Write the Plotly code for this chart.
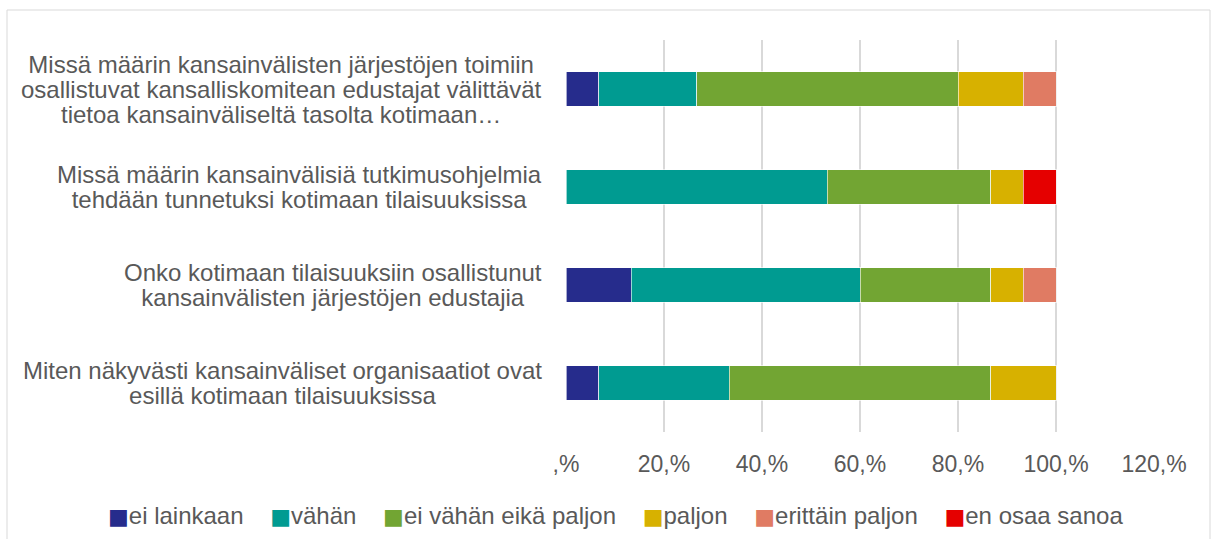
import plotly.graph_objects as go

categories = [
    "Missä määrin kansainvälisten järjestöjen toimiin<br>osallistuvat kansalliskomitean edustajat välittävät<br>tietoa kansainväliseltä tasolta kotimaan…",
    "Missä määrin kansainvälisiä tutkimusohjelmia<br>tehdään tunnetuksi kotimaan tilaisuuksissa",
    "Onko kotimaan tilaisuuksiin osallistunut<br>kansainvälisten järjestöjen edustajia",
    "Miten näkyvästi kansainväliset organisaatiot ovat<br>esillä kotimaan tilaisuuksissa",
]
series_names = ["ei lainkaan", "vähän", "ei vähän eikä paljon", "paljon", "erittäin paljon", "en osaa sanoa"]
ei_lainkaan = [6.67, 0, 13.33, 6.67]
vahan = [20.0, 53.33, 46.67, 26.67]
ei_vahan_eika_paljon = [53.33, 33.33, 26.67, 53.33]
paljon = [13.33, 6.67, 6.67, 13.33]
erittain_paljon = [6.67, 0, 6.67, 0]
en_osaa_sanoa = [0, 6.67, 0, 0]
tick_values = [0, 20, 40, 60, 80, 100, 120]
tick_labels = [",%", "20,%", "40,%", "60,%", "80,%", "100,%", "120,%"]

colors = ["#262C8C", "#009B91", "#72A533", "#D7B100", "#E07B63", "#E50000"]
series_values = [ei_lainkaan, vahan, ei_vahan_eika_paljon, paljon, erittain_paljon, en_osaa_sanoa]

FONT = "Liberation Sans, Arial, sans-serif"
TXT = "#595959"

fig = go.Figure()
for name, vals, col in zip(series_names, series_values, colors):
    fig.add_trace(go.Bar(
        y=categories,
        x=[v if v else None for v in vals],
        name=name,
        orientation="h",
        marker=dict(color=col, line=dict(color="rgba(255,255,255,0.6)", width=1)),
        showlegend=False,
    ))

W, H = 1212, 539
L, R, T, B = 566, 58, 40, 107
pw = W - L - R
ph = H - T - B

def px2x(p):
    return (p - L) / pw

def py2y(p):
    return (H - B - p) / ph

# category labels: small base font controls line spacing, span enlarges glyphs
for c in categories:
    fig.add_annotation(
        x=px2x(544), xref="paper", y=c, yref="y",
        text="<br>".join(f"<span style='font-size:24px'>{ln}</span>" for ln in c.split("<br>")),
        showarrow=False, xanchor="right", yanchor="middle",
        align="center", font=dict(family=FONT, size=19.2, color=TXT),
    )

# legend as text
legend_text = "    ".join(
    f"<span style='fill:{c};font-family:DejaVu Sans;font-size:22px'>■</span>{n}" for n, c in zip(series_names, colors)
)
fig.add_annotation(
    x=px2x(615), xref="paper", y=py2y(515), yref="paper",
    text=legend_text, showarrow=False, xanchor="center", yanchor="middle",
    font=dict(family=FONT, size=24, color=TXT),
)

# chart border
fig.add_shape(
    type="rect", xref="paper", yref="paper",
    x0=px2x(7), x1=px2x(1210), y0=py2y(560), y1=py2y(10),
    line=dict(color="#D9D9D9", width=1), fillcolor="rgba(0,0,0,0)", layer="below",
)

fig.update_layout(
    barmode="stack",
    bargap=0.65,
    width=W, height=H,
    margin=dict(l=L, r=R, t=T, b=B),
    paper_bgcolor="white",
    plot_bgcolor="white",
    font=dict(family=FONT, size=23, color=TXT),
    xaxis=dict(
        range=[0, 120], tickvals=tick_values, ticktext=tick_labels,
        showgrid=True, gridcolor="#D9D9D9", gridwidth=1.5,
        zeroline=False, showline=False, ticks="", ticklabelstandoff=16,
        tickfont=dict(family=FONT, size=23, color=TXT), fixedrange=True,
    ),
    yaxis=dict(
        categoryorder="array", categoryarray=categories[::-1],
        showticklabels=False, showgrid=False, zeroline=False, showline=False,
        fixedrange=True,
    ),
)

fig.write_html(
    "out.html",
    config={"displayModeBar": False},
    post_script="document.body.style.margin='0';document.body.style.overflow='hidden';",
)
